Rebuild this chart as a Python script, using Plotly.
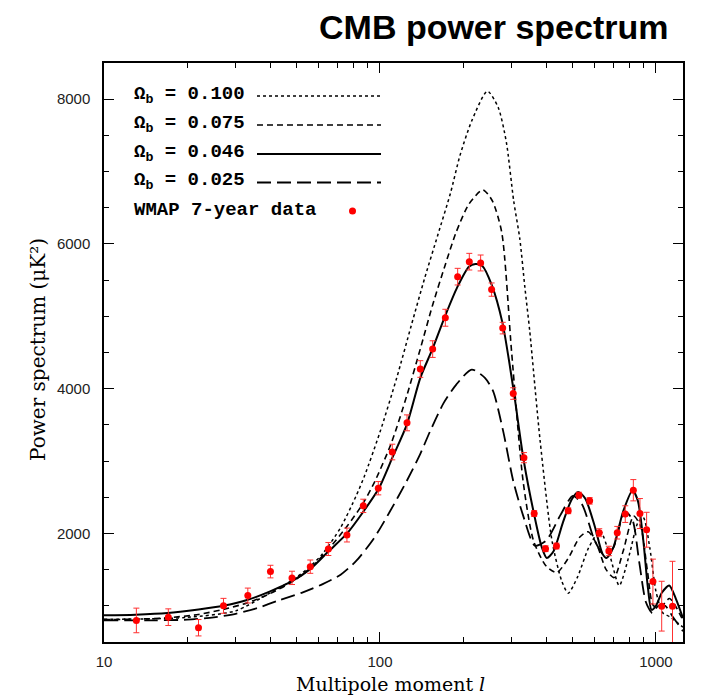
import plotly.graph_objects as go

# ---------------- data ----------------
# Omega_b = 0.100 (dotted)
l_100 = [10, 15, 20, 30, 40, 47, 55, 62, 72, 82, 88, 100, 115, 130, 145, 162, 180, 195, 215, 245, 268, 287, 305, 321, 335, 349, 380, 420, 455, 481, 520, 570, 627, 680, 736, 800, 860, 900, 950, 1000, 1060, 1120, 1253]
v_100 = [815, 820, 840, 930, 1180, 1330, 1520, 1720, 2080, 2520, 2800, 3400, 4150, 4880, 5520, 6123, 6700, 7224, 7700, 8110, 7889, 7407, 6600, 6076, 5400, 4790, 3300, 1900, 1350, 1174, 1400, 1800, 2037, 1700, 1280, 1700, 2150, 2220, 1800, 1200, 900, 850, 706]

# Omega_b = 0.075 (short dashed)
l_075 = [10, 13, 17, 22, 27, 33, 40, 48, 56, 65, 76, 87, 96, 110, 125, 140, 155, 172, 189, 210, 236, 255, 276, 300, 330, 360, 400, 437, 480, 530, 568, 610, 660, 705, 760, 830, 880, 930, 980, 1050, 1120, 1253]
v_075 = [810, 815, 835, 880, 950, 1040, 1170, 1330, 1520, 1780, 2100, 2420, 2726, 3250, 3900, 4550, 5150, 5700, 6166, 6550, 6747, 6600, 6166, 4500, 2725, 1900, 1550, 1459, 1650, 1950, 2023, 1850, 1500, 1390, 1750, 2240, 2100, 1500, 1000, 1000, 1100, 800]

# Omega_b = 0.046 (solid)
l_046 = [10, 13, 17, 22, 27, 33, 40, 48, 56, 65, 76, 87, 99, 111, 125, 140, 155, 172, 191, 210, 222, 235, 254, 278, 304, 332, 362, 385, 402, 425, 460, 495, 523, 555, 600, 640, 662, 700, 760, 823, 860, 900, 935, 964, 1000, 1050, 1117, 1180, 1253]
v_046 = [870, 878, 900, 950, 1000, 1080, 1200, 1340, 1510, 1750, 2000, 2300, 2620, 3050, 3500, 4150, 4550, 5000, 5410, 5686, 5723, 5696, 5434, 4906, 4010, 3001, 2260, 1820, 1661, 1750, 2150, 2470, 2574, 2480, 2100, 1720, 1661, 1800, 2300, 2597, 2450, 1900, 1250, 945, 1000, 1180, 1280, 1100, 830]

# Omega_b = 0.025 (long dashed)
l_025 = [10, 15, 20, 25, 30, 36, 43, 52, 62, 72, 82, 95, 109, 125, 140, 152, 170, 189, 215, 240, 257, 280, 304, 330, 364, 400, 450, 500, 540, 600, 650, 700, 770, 820, 870, 920, 970, 1020, 1080, 1150, 1253]
v_025 = [800, 800, 808, 840, 890, 970, 1075, 1180, 1300, 1430, 1620, 1930, 2313, 2725, 3100, 3414, 3800, 4057, 4264, 4150, 3965, 3400, 2725, 2250, 1831, 1900, 2250, 2520, 2400, 1900, 1700, 1800, 2300, 2200, 1600, 1050, 900, 1000, 1000, 850, 650]

# WMAP 7-year data
wmap_l = [13.1, 17.1, 22.0, 27.1, 33.2, 40.1, 48.0, 55.9, 65.0, 75.9, 87.0, 98.6, 110.8, 125.3, 140.0, 155.2, 172.5, 191.2, 210.7, 231.6, 253.8, 278.4, 304, 332.4, 362, 398, 436, 481, 526, 575, 623, 675, 724, 774, 828, 875, 925, 975, 1049, 1148]
wmap_v = [798, 843, 697, 1000, 1142, 1473, 1386, 1541, 1785, 1978, 2381, 2625, 3125, 3528, 4272, 4547, 4980, 5548, 5755, 5737, 5369, 4837, 3933, 3047, 2275, 1789, 1826, 2313, 2529, 2450, 2010, 1758, 2010, 2267, 2597, 2275, 2051, 1335, 995, 995]
wmap_err = [170, 115, 113, 103, 103, 87, 92, 92, 90, 96, 92, 92, 108, 110, 115, 115, 117, 115, 115, 110, 92, 80, 80, 70, 40, 40, 40, 40, 40, 45, 55, 65, 87, 115, 147, 207, 241, 310, 344, 620]

legend_labels = ["Ω<sub>b</sub> = 0.100", "Ω<sub>b</sub> = 0.075", "Ω<sub>b</sub> = 0.046", "Ω<sub>b</sub> = 0.025"]
legend_dashes = ["dot", "6px,4px", "solid", "14px,6px"]
legend_widths = [1.5, 1.6, 2.0, 1.8]
data_label = "WMAP 7-year data"

x_tick_vals = [10, 100, 1000]
x_tick_text = ["10", "100", "1000"]
x_minor_vals = [20, 30, 40, 50, 60, 70, 80, 90, 200, 300, 400, 500, 600, 700, 800, 900]
y_tick_vals = [2000, 4000, 6000, 8000]
y_minor_vals = [1000, 1500, 2500, 3000, 3500, 4500, 5000, 5500, 6500, 7000, 7500]

# ---------------- figure ----------------
W, H = 701, 696
L, R, T, B = 104, 18, 63, 54
pw, ph = W - L - R, H - T - B


def px_x(px):
    return (px - L) / pw


def px_y(py):
    return (H - B - py) / ph


fig = go.Figure()
curves = [(l_100, v_100), (l_075, v_075), (l_046, v_046), (l_025, v_025)]
for (lx, vy), dash, w in zip(curves, legend_dashes, legend_widths):
    fig.add_trace(go.Scatter(x=lx, y=vy, mode="lines",
                             line=dict(color="black", dash=dash, width=w, shape="spline", smoothing=0.7),
                             showlegend=False, hoverinfo="skip"))

fig.add_trace(go.Scatter(x=wmap_l, y=wmap_v, mode="markers",
                         marker=dict(color="#ff0000", size=7),
                         error_y=dict(type="data", array=wmap_err, color="#ff3030", thickness=1, width=3),
                         showlegend=False))

axis_common = dict(showline=True, linecolor="black", linewidth=1.5, mirror="ticks",
                   ticks="inside", ticklen=10, tickwidth=1, tickcolor="black",
                   showgrid=False, zeroline=False,
                   tickfont=dict(family="Liberation Sans, Arial", size=15, color="#222"))

fig.update_xaxes(type="log", range=[1, 3.098], tickvals=x_tick_vals, ticktext=x_tick_text,
                 minor=dict(tickvals=x_minor_vals, ticklen=5, ticks="inside", tickcolor="black", showgrid=False),
                 ticklabelstandoff=5, **axis_common)
fig.update_yaxes(range=[500, 8500], tickvals=y_tick_vals,
                 minor=dict(tickvals=y_minor_vals, ticklen=5, ticks="inside", tickcolor="black", showgrid=False),
                 ticklabelstandoff=9, **axis_common)

annotations = []
shapes = []
rows = [95, 124, 153, 181.5]
text_font = dict(family="Liberation Mono, Courier New, monospace", size=19, color="black", weight="bold")
for lab, dash, w, ry in zip(legend_labels, legend_dashes, legend_widths, rows):
    annotations.append(dict(x=px_x(132), y=px_y(ry), xref="paper", yref="paper", text=lab,
                            showarrow=False, xanchor="left", yanchor="middle", font=text_font))
    shapes.append(dict(type="line", xref="paper", yref="paper", x0=px_x(257), x1=px_x(381),
                       y0=px_y(ry + 1), y1=px_y(ry + 1), line=dict(color="black", dash=dash, width=w)))
annotations.append(dict(x=px_x(132), y=px_y(210), xref="paper", yref="paper", text=data_label,
                        showarrow=False, xanchor="left", yanchor="middle", font=text_font))
shapes.append(dict(type="circle", xref="paper", yref="paper",
                   x0=px_x(349), x1=px_x(356), y0=px_y(207.5), y1=px_y(214.5),
                   fillcolor="#ff0000", line=dict(color="#ff0000", width=0)))

# axis titles
annotations.append(dict(x=px_x(38), y=px_y(350), xref="paper", yref="paper", text="Power spectrum (μK²)",
                        showarrow=False, textangle=-90, xanchor="center", yanchor="middle",
                        font=dict(family="DejaVu Serif, serif", size=20, color="black")))
annotations.append(dict(x=px_x(390), y=px_y(684), xref="paper", yref="paper",
                        text="Multipole moment <i>l</i>",
                        showarrow=False, xanchor="center", yanchor="middle",
                        font=dict(family="DejaVu Serif, serif", size=19, color="black")))
# title
annotations.append(dict(x=px_x(671), y=px_y(27), xref="paper", yref="paper", text="<b>CMB power spectrum</b>",
                        showarrow=False, xanchor="right", yanchor="middle",
                        font=dict(family="Liberation Sans, Arial", size=34, color="black")))

fig.update_layout(width=W, height=H, margin=dict(l=L, r=R, t=T, b=B),
                  paper_bgcolor="white", plot_bgcolor="white",
                  annotations=annotations, shapes=shapes, showlegend=False)

fig.write_html("out.html")
